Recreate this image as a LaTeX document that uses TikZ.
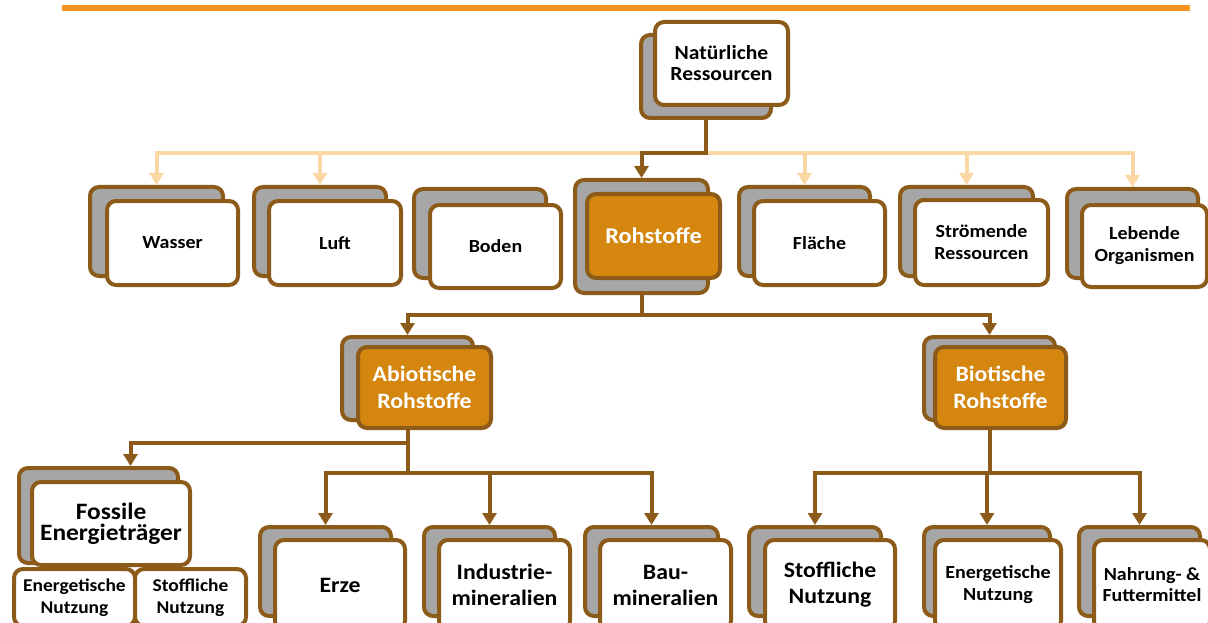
\documentclass[tikz,border=0pt]{standalone}
\usepackage{fontspec}
\setmainfont{Carlito}[FakeStretch=1.08]
\usetikzlibrary{arrows.meta,backgrounds}
\definecolor{brn}{HTML}{8C5A19}
\definecolor{gry}{HTML}{A6A6A6}
\definecolor{org}{HTML}{D4860F}
\definecolor{lgt}{HTML}{FAD7A5}
\definecolor{topor}{HTML}{F7941D}
\newcommand\fsz[2]{\fontsize{#1}{#2}\selectfont\bfseries}
\newcommand\Bx[7]{\node[#2, minimum width={(#5)-(#3)-4}, minimum height={(#6)-(#4)-4}] (#1) at ({((#3)+(#5))/2},{((#4)+(#6))/2}) {#7};}
\tikzset{
  backbox/.style={draw=brn, fill=gry, line width=4pt, rounded corners=9pt, inner sep=0pt},
  frontbox/.style={draw=brn, fill=white, line width=4pt, rounded corners=9pt, inner sep=0pt, align=center, text=black},
  orbox/.style={frontbox, fill=org, text=white},
  dark/.style={draw=brn, line width=4pt},
  light/.style={draw=lgt, line width=4pt},
  arr/.style={-{Triangle[width=14pt,length=12pt]}},
  topline/.style={draw=topor, line width=6.5pt},
}
\begin{document}
\begin{tikzpicture}[x=1pt,y=-1pt]
\useasboundingbox (0,0) rectangle (1208,623);
\coordinate (tl) at (62,8);
\coordinate (tr) at (1190,8);
\draw[topline] (tl) -- (tr);
\coordinate (bus) at (0,153);
\coordinate (bus2) at (0,315);
\coordinate (bus3) at (0,443);
\coordinate (bus4) at (0,473);

% back boxes
\Bx{natB}{backbox}{639}{33}{773}{120}{}
\Bx{wasB}{backbox}{88}{185}{225}{278}{}
\Bx{lufB}{backbox}{252}{185}{388}{278}{}
\Bx{bodB}{backbox}{412}{187}{548}{280}{}
\Bx{rohB}{backbox}{573}{178}{710}{295}{}
\Bx{flaB}{backbox}{737}{185}{872}{278}{}
\Bx{strB}{backbox}{898}{185}{1035}{278}{}
\Bx{lebB}{backbox}{1065}{187}{1200}{280}{}
\Bx{abiB}{backbox}{340}{335}{475}{422}{}
\Bx{bioB}{backbox}{922}{335}{1057}{422}{}
\Bx{fosB}{backbox}{17}{466}{180}{565}{}
\Bx{erzB}{backbox}{258}{525}{393}{618}{}
\Bx{indB}{backbox}{422}{525}{557}{618}{}
\Bx{bauB}{backbox}{583}{525}{720}{618}{}
\Bx{stoB}{backbox}{747}{525}{883}{618}{}
\Bx{eneB}{backbox}{922}{525}{1052}{618}{}
\Bx{nahB}{backbox}{1077}{525}{1202}{618}{}

% front boxes
\Bx{nat}{frontbox, font=\fsz{20}{21}}{653}{20}{790}{107}{Natürliche\\Ressourcen}
\Bx{was}{frontbox, font=\fsz{18.5}{22}}{105}{199}{240}{287}{Wasser}
\Bx{luf}{frontbox, font=\fsz{18.5}{22}}{267}{199}{403}{287}{Luft}
\Bx{bod}{frontbox, font=\fsz{18.5}{22}}{428}{203}{563}{290}{Boden}
\Bx{roh}{orbox, font=\fsz{22.5}{24}}{585}{192}{722}{280}{Rohstoffe}
\Bx{fla}{frontbox, font=\fsz{18.5}{22}}{752}{199}{887}{287}{Fläche}
\Bx{str}{frontbox, font=\fsz{18.5}{22}}{913}{198}{1050}{287}{Strömende\\Ressourcen}
\Bx{leb}{frontbox, font=\fsz{18.5}{22}}{1080}{203}{1209}{289}{Lebende\\Organismen}
\Bx{abi}{orbox, font=\fsz{22}{26.5}}{356}{345}{493}{430}{Abiotische\\Rohstoffe}
\Bx{bio}{orbox, font=\fsz{22}{26.5}}{933}{345}{1068}{430}{Biotische\\Rohstoffe}
\Bx{fos}{frontbox, font=\fsz{23.5}{21.5}}{30}{480}{192}{567}{Fossile\\Energieträger}
\Bx{fen}{frontbox, font=\fsz{18}{22}}{12}{567}{137}{628}{Energetische\\Nutzung}
\Bx{fst}{frontbox, font=\fsz{18}{22}}{133}{567}{248}{628}{Stoffliche\\Nutzung}
\Bx{erz}{frontbox, font=\fsz{22}{26}}{273}{538}{407}{632}{Erze}
\Bx{ind}{frontbox, font=\fsz{22}{26}}{437}{538}{572}{632}{Industrie-\\mineralien}
\Bx{bau}{frontbox, font=\fsz{22}{26}}{598}{538}{733}{632}{Bau-\\mineralien}
\Bx{sto}{frontbox, font=\fsz{22}{26}}{763}{538}{897}{632}{Stoffliche\\Nutzung}
\Bx{ene}{frontbox, font=\fsz{18.5}{22}}{933}{538}{1063}{632}{Energetische\\Nutzung}
\Bx{nah}{frontbox, font=\fsz{18.5}{21}}{1092}{538}{1212}{632}{Nahrung- \&\\Futtermittel}

\begin{pgfonlayer}{background}
% light connectors
\draw[light,arr] (natB.south |- bus) -| (wasB.north);
\draw[light,arr] (natB.south |- bus) -| (lebB.north);
\draw[light,arr] (lufB.north |- bus) -- (lufB.north);
\draw[light,arr] (flaB.north |- bus) -- (flaB.north);
\draw[light,arr] (strB.north |- bus) -- (strB.north);
% dark connectors
\draw[dark,arr] (natB.south) -- (natB.south |- bus) -| (rohB.north);
\draw[dark,arr] (rohB.south) -- (rohB.south |- bus2) -| (abiB.north);
\draw[dark,arr] (rohB.south |- bus2) -| (bioB.north);
\draw[dark,arr] (abiB.south) -- (abiB.south |- bus3) -| ([xshift=32pt]fosB.north);
\draw[dark,arr] (abiB.south |- bus3) -- (abiB.south |- bus4) -| (erzB.north);
\draw[dark,arr] (abiB.south |- bus4) -| (bauB.north);
\draw[dark,arr] (indB.north |- bus4) -- (indB.north);
\draw[dark,arr] (bioB.south) -- (bioB.south |- bus4) -| (stoB.north);
\draw[dark,arr] (bioB.south |- bus4) -| (nahB.north);
\draw[dark,arr] (eneB.north |- bus4) -- (eneB.north);
\end{pgfonlayer}
\end{tikzpicture}
\end{document}
